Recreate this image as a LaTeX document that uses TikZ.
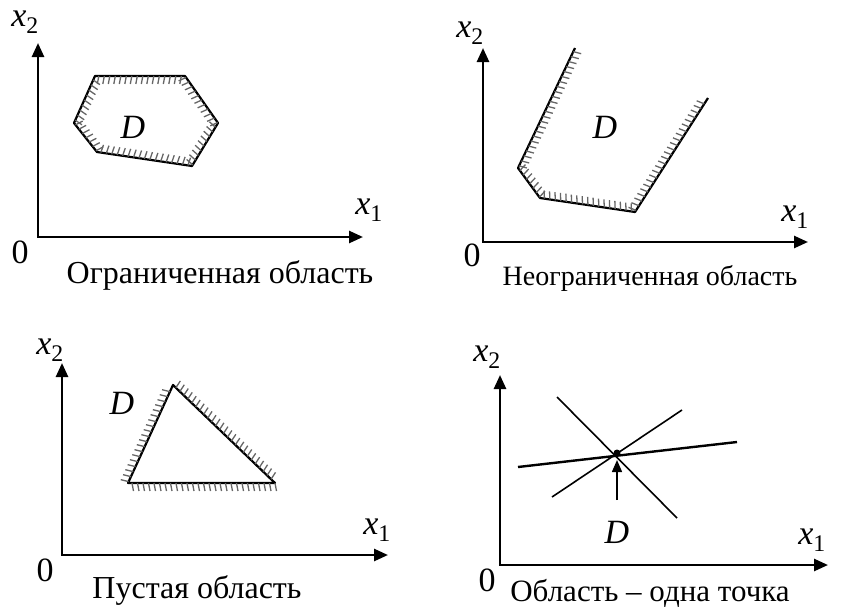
\documentclass[tikz,border=0pt]{standalone}
\usepackage{fontspec}
\setmainfont{Liberation Serif}
\usetikzlibrary{arrows.meta,decorations.markings}

\begin{document}
\begin{tikzpicture}[x=1pt,y=-1pt,
  axis/.style={line width=2.6pt,{Triangle[length=14pt,width=12pt]}-{Triangle[length=14pt,width=12pt]}},
  border/.style={line width=2.2pt,line join=round},
  hatched/.style={postaction={decorate,decoration={markings,
    mark=between positions 0.01 and 0.99 step 5.5pt with {\draw[line width=1.3pt,black!60] (0,0) -- (-1.5pt,#1);}}}},
  lbl/.style={font=\fontsize{34}{40}\selectfont,inner sep=0pt},
  captext/.style={font=\fontsize{32}{38}\selectfont,inner sep=0pt}]

\useasboundingbox (0,0) rectangle (842,608);

% Panel 1: bounded region
\coordinate (o1) at (38,237);
\coordinate (ytip1) at (38,43);
\coordinate (xtip1) at (363,237);
\draw[axis] (ytip1) -- (o1) -- (xtip1);
\node[lbl] (xa1) at (25,22) {{\itshape x}\textsubscript{2}};
\node[lbl] (xb1) at (369,210) {{\itshape x}\textsubscript{1}};
\node[lbl] (zero1) at (20,252) {0};
\node[lbl] (d1) at (133,127) {\itshape D};
\node[captext] (cap1) at (220,275) {Ограниченная область};
\draw[border,hatched=-8pt] (95,76) -- (185,76) -- (218,123) -- (192,166) -- (97,152) -- (74,123) -- cycle;

% Panel 2: unbounded region
\coordinate (o2) at (483,242);
\coordinate (ytip2) at (483,48);
\coordinate (xtip2) at (808,242);
\draw[axis] (ytip2) -- (o2) -- (xtip2);
\node[lbl] (xa2) at (470,33) {{\itshape x}\textsubscript{2}};
\node[lbl] (xb2) at (795,217) {{\itshape x}\textsubscript{1}};
\node[lbl] (zero2) at (472,255) {0};
\node[lbl] (d2) at (605,127) {\itshape D};
\node[captext,font=\fontsize{28}{34}\selectfont] (cap2) at (650,278) {Неограниченная область};
\draw[border,hatched=8pt] (575,48) -- (518,168) -- (540,198) -- (635,212) -- (708,98);

% Panel 3: empty region
\coordinate (o3) at (62,555);
\coordinate (ytip3) at (62,363);
\coordinate (xtip3) at (388,555);
\draw[axis] (ytip3) -- (o3) -- (xtip3);
\node[lbl] (xa3) at (50,350) {{\itshape x}\textsubscript{2}};
\node[lbl] (xb3) at (377,530) {{\itshape x}\textsubscript{1}};
\node[lbl] (zero3) at (45,570) {0};
\node[lbl] (d3) at (122,403) {\itshape D};
\node[captext] (cap3) at (197,590) {Пустая область};
\draw[border,hatched=8pt] (173,385) -- (275,483) -- (128,483) -- cycle;

% Panel 4: single point
\coordinate (o4) at (500,565);
\coordinate (ytip4) at (500,375);
\coordinate (xtip4) at (828,565);
\draw[axis] (ytip4) -- (o4) -- (xtip4);
\node[lbl] (xa4) at (487,357) {{\itshape x}\textsubscript{2}};
\node[lbl] (xb4) at (812,540) {{\itshape x}\textsubscript{1}};
\node[lbl] (zero4) at (487,580) {0};
\node[lbl] (d4) at (617,532) {\itshape D};
\node[captext,font=\fontsize{31}{37}\selectfont] (cap4) at (650,593) {Область – одна точка};
\coordinate (P) at (617,453);
\draw[line width=1.6pt] (557,397) -- (677,518);
\draw[line width=1.6pt] (552,497) -- (682,410);
\draw[line width=2.4pt] (518,467) -- (737,442);
\fill (P) circle (3.5pt);
\coordinate (arr) at (617,500);
\draw[line width=1.5pt,-{Triangle[length=12pt,width=10pt]}] (arr) -- ([yshift=-7pt]P);

\end{tikzpicture}
\end{document}
